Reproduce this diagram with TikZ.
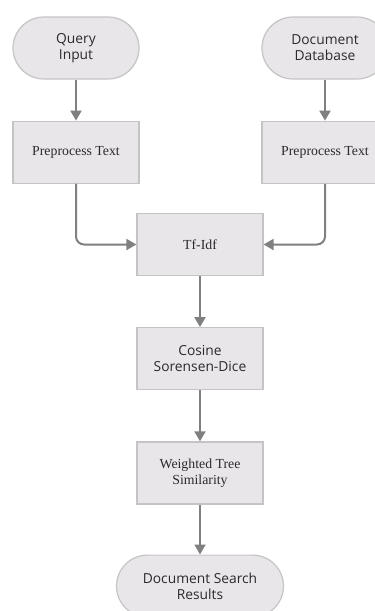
\documentclass[tikz,border=0pt]{standalone}
\usepackage{xcolor}
\usepackage{fontspec}
\setmainfont{Liberation Serif}
\newfontfamily\flowsans{Open Sans}
\usepackage{tikz}
\usetikzlibrary{arrows.meta,positioning}
\definecolor{NodeFill}  {HTML}{E9E6EA}
\definecolor{NodeLine}  {HTML}{C6C3C6}
\definecolor{FlowArrow} {HTML}{808080}
\definecolor{NodeText}  {HTML}{2A2A2A}

\tikzset{
  procbox/.style={draw=NodeLine,fill=NodeFill,line width=1.2pt,text=NodeText,
    minimum width=126pt,minimum height=62pt,inner sep=2pt,align=center,
    font=\fontsize{13.8}{16}\selectfont},
  termbox/.style={procbox,rounded corners=31pt,font=\flowsans\fontsize{13.8}{16}\selectfont},
  sansbox/.style={procbox,font=\flowsans\fontsize{13.8}{16}\selectfont},
  flow/.style={draw=FlowArrow,line width=2pt,rounded corners=8pt,
    -{Triangle[width=11pt,length=10pt]}}
}

\begin{document}
\begin{tikzpicture}[x=1pt,y=1pt,node distance=41pt]
    \useasboundingbox (0,0) rectangle (375,-611);
    \clip (0,0) rectangle (375,-611);
    % inputs
    \node[termbox] (query) at (76,-48) {Query\\Input};
    \node[termbox] (docdb) at (325,-48) {Document\\Database};
    \node[procbox,below=of query] (prepq) {Preprocess Text};
    \node[procbox,below=of docdb] (prepd) {Preprocess Text};
    % main chain
    \node[procbox] (tfidf) at (200,-244.5) {Tf-Idf};
    \node[sansbox,below=51pt of tfidf] (cosine) {Cosine\\Sorensen-Dice};
    \node[procbox,below=51pt of cosine] (wtree) {Weighted Tree\\Similarity};
    \node[termbox,minimum width=167pt,below=50pt of wtree] (results) {Document Search\\Results};
    % connectors
    \draw[flow] (query) -- (prepq);
    \draw[flow] (docdb) -- (prepd);
    \draw[flow] (prepq.south) |- (tfidf.west);
    \draw[flow] (prepd.south) |- (tfidf.east);
    \draw[flow] (tfidf) -- (cosine);
    \draw[flow] (cosine) -- (wtree);
    \draw[flow] (wtree) -- (results);
  \end{tikzpicture}
\end{document}
